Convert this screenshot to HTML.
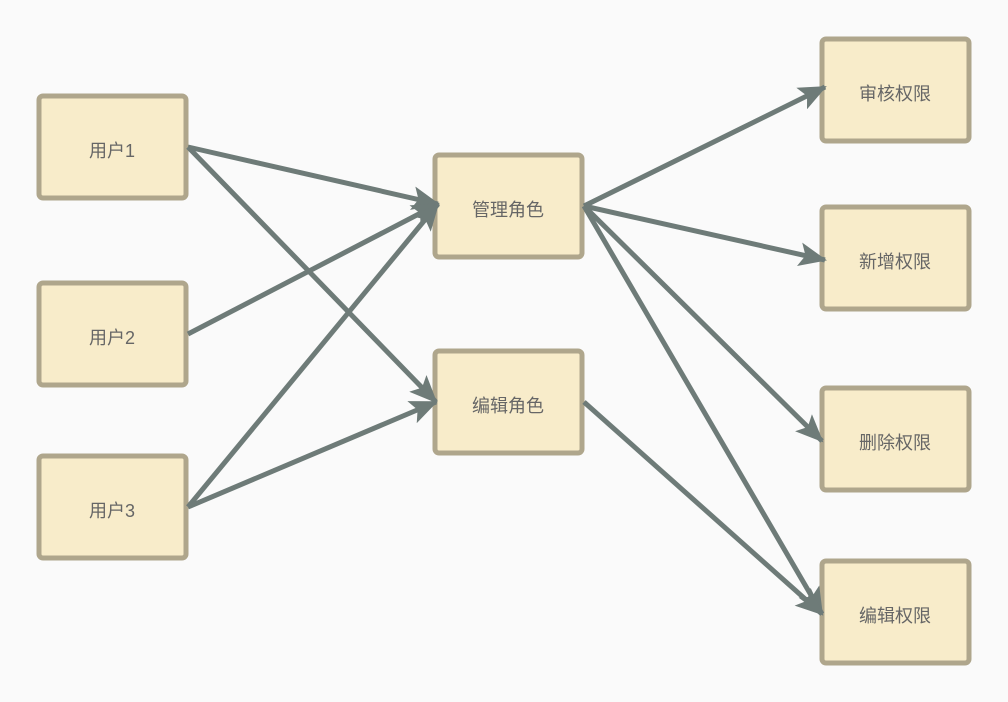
<!DOCTYPE html>
<html><head><meta charset="utf-8"><style>
html,body{margin:0;padding:0;background:#fafafa;}
svg{display:block;}
text{font-family:"Liberation Sans","Noto Sans CJK SC",sans-serif;font-size:18px;fill:#666;}
</style></head><body>
<svg width="1008" height="702" viewBox="0 0 1008 702" xmlns="http://www.w3.org/2000/svg">
<defs>
<marker id="a" markerUnits="userSpaceOnUse" markerWidth="30" markerHeight="24" refX="26" refY="12" orient="auto">
<path d="M0,0 L28,12 L0,24 L6,12 Z" fill="#6e7b78"/>
</marker>
</defs>
<g fill="#f8ecca" stroke="#afa68c" stroke-width="5">
<rect x="39" y="96" width="147" height="102" rx="4"/>
<rect x="39" y="283" width="147" height="102" rx="4"/>
<rect x="39" y="456" width="147" height="102" rx="4"/>
<rect x="435" y="155" width="147" height="102" rx="4"/>
<rect x="435" y="351" width="147" height="102" rx="4"/>
<rect x="822" y="39" width="147" height="102" rx="4"/>
<rect x="822" y="207" width="147" height="102" rx="4"/>
<rect x="822" y="388" width="147" height="102" rx="4"/>
<rect x="822" y="561" width="147" height="102" rx="4"/>
</g>
<g stroke="#6e7b78" stroke-width="5" fill="none" marker-end="url(#a)">
<line x1="188" y1="147" x2="438" y2="204"/>
<line x1="188" y1="147" x2="436" y2="402"/>
<line x1="188" y1="334" x2="438" y2="204"/>
<line x1="188" y1="507" x2="438" y2="204"/>
<line x1="188" y1="507" x2="436" y2="402"/>
<line x1="584" y1="206" x2="825" y2="87"/>
<line x1="584" y1="206" x2="825" y2="260"/>
<line x1="584" y1="206" x2="822" y2="441"/>
<line x1="584" y1="206" x2="822" y2="614"/>
<line x1="584" y1="402" x2="822" y2="614"/>
</g>
<g text-anchor="middle">
<text x="112" y="157">用户1</text>
<text x="112" y="344">用户2</text>
<text x="112" y="517">用户3</text>
<text x="508" y="216">管理角色</text>
<text x="508" y="412">编辑角色</text>
<text x="895" y="100">审核权限</text>
<text x="895" y="268">新增权限</text>
<text x="895" y="449">删除权限</text>
<text x="895" y="622">编辑权限</text>
</g>
</svg>
</body></html>
